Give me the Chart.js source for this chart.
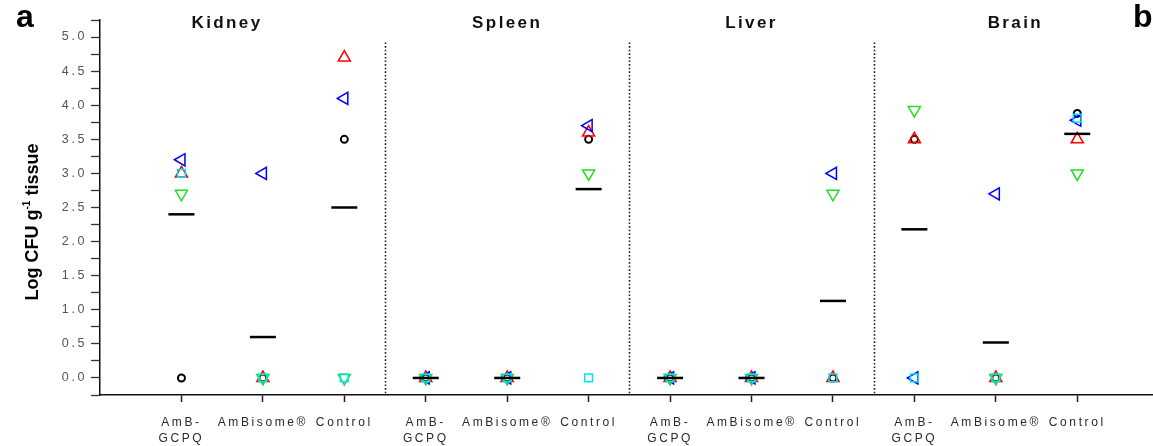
<!DOCTYPE html>
<html>
<head>
<meta charset="utf-8">
<script src="https://cdn.jsdelivr.net/npm/chart.js@4"></script>
<style>
  html, body { margin: 0; padding: 0; background: #fff; }
  #wrap { width: 1153px; height: 446px; }
</style>
</head>
<body>
<div id="wrap"><canvas id="cfuChart" width="1153" height="446"></canvas></div>
<script>
// Organ panels, three treatment columns each
const organs = ["Kidney", "Spleen", "Liver", "Brain"];
const treatments = [["AmB-", "GCPQ"], "AmBisome®", "Control"];
const titlePos = [0.56, 4, 7, 10.24];
const dividerPos = [2.5, 5.5, 8.5];

// Log CFU per animal, columns: Kidney x3, Spleen x3, Liver x3, Brain x3
const mouse1 = [0, 0, 3.5, 0, 0, 3.5, 0, 0, 0, 3.5, 0, 3.88];       // black circle
const mouse2 = [3.0, 0, 4.7, 0, 0, 3.6, 0, 0, 0, 3.5, 0, 3.5];      // red up triangle
const mouse3 = [3.2, 3.0, 4.1, 0, 0, 3.7, 0, 0, 3.0, 0, 2.7, 3.78]; // blue left triangle
const mouse4 = [2.7, 0, 0, 0, 0, 3.0, 0, 0, 2.7, 3.93, 0, 3.0];     // green down triangle
const mouse5 = [3.0, 0, 0, 0, 0, 0, 0, 0, 0, 0, 0, 3.81];           // cyan square
const means = [2.4, 0.6, 2.5, 0, 0, 2.77, 0, 0, 1.13, 2.18, 0.52, 3.58];

function pts(arr) {
  return arr.map((v, i) => ({ x: i, y: v }));
}

function marker(data, style, color, radius, rotation, order, width) {
  return {
    data: pts(data),
    pointStyle: style,
    pointRadius: radius,
    pointRotation: rotation,
    pointBorderWidth: width,
    borderColor: color,
    backgroundColor: "rgba(0,0,0,0)",
    showLine: false,
    order: order,
  };
}

// Extra drawing: letter spacing, panel dividers, titles, axis title
const decorations = {
  id: "decorations",
  beforeDraw(chart) {
    chart.ctx.letterSpacing = "2.6px";
  },
  afterDraw(chart) {
    const { ctx, scales: { x, y } } = chart;
    ctx.save();
    ctx.letterSpacing = "0px";

    // dotted separators between organs
    ctx.strokeStyle = "#222";
    ctx.lineWidth = 1.6;
    ctx.setLineDash([1.6, 2]);
    dividerPos.forEach((p) => {
      const px = Math.round(x.getPixelForValue(p)) + 0.5;
      ctx.beginPath();
      ctx.moveTo(px, y.getPixelForValue(4.92));
      ctx.lineTo(px, y.bottom);
      ctx.stroke();
    });
    ctx.setLineDash([]);

    // organ titles
    ctx.fillStyle = "#111";
    ctx.font = "bold 17px 'Liberation Sans', Arial, sans-serif";
    ctx.letterSpacing = "2.4px";
    ctx.textAlign = "center";
    ctx.textBaseline = "alphabetic";
    organs.forEach((name, i) => {
      ctx.fillText(name, x.getPixelForValue(titlePos[i]), 28);
    });

    // panel letters
    ctx.letterSpacing = "0px";
    ctx.font = "bold 32px 'Liberation Sans', Arial, sans-serif";
    ctx.textAlign = "left";
    ctx.fillStyle = "#000";
    ctx.fillText("a", 16, 27);
    ctx.fillText("b", 1133, 27);

    // y axis title with superscript
    ctx.translate(32, 222);
    ctx.rotate(-Math.PI / 2);
    const parts = [["Log CFU g", 18, 0], ["-1", 10, -8], [" tissue", 18, 0]];
    let total = 0;
    parts.forEach((p) => {
      ctx.font = "bold " + p[1] + "px 'Liberation Sans', Arial, sans-serif";
      total += ctx.measureText(p[0]).width;
    });
    let cx = -total / 2;
    parts.forEach((p) => {
      ctx.font = "bold " + p[1] + "px 'Liberation Sans', Arial, sans-serif";
      ctx.fillText(p[0], cx, 6 + p[2]);
      cx += ctx.measureText(p[0]).width;
    });
    ctx.restore();
  },
};

new Chart(document.getElementById("cfuChart").getContext("2d"), {
  type: "scatter",
  data: {
    datasets: [
      marker(mouse1, "circle", "#000000", 3.5, 0, 5, 2),
      marker(mouse2, "triangle", "#ff0000", 7, 0, 4, 1.5),
      marker(mouse3, "triangle", "#0000ff", 7, 270, 3, 1.5),
      marker(mouse4, "triangle", "#22dd22", 7, 180, 2, 1.5),
      marker(mouse5, "rect", "#00e5f5", 5.5, 0, 1, 1.5),
      marker(means, "line", "#000000", 13, 0, 0, 2.5),
    ],
  },
  options: {
    responsive: false,
    animation: false,
    events: [],
    layout: { autoPadding: false, padding: { top: 20, left: 0, right: 0, bottom: 0 } },
    plugins: {
      legend: { display: false },
      tooltip: { enabled: false },
    },
    scales: {
      x: {
        type: "linear",
        min: -1,
        max: 11.93,
        afterBuildTicks: (scale) => {
          scale.ticks = treatments.concat(treatments, treatments, treatments).map((t, i) => ({ value: i }));
        },
        afterFit: (scale) => {
          scale.height = 51;
          scale.paddingLeft = 0;
          scale.paddingRight = 0;
        },
        grid: { drawOnChartArea: false, tickLength: 7, tickColor: "#222", tickWidth: 1.5 },
        border: { color: "#111", width: 1.5 },
        ticks: {
          autoSkip: false,
          maxRotation: 0,
          padding: 13,
          color: "#2a2a2a",
          font: { family: "'Liberation Sans', Arial, sans-serif", size: 12, lineHeight: 1.3 },
          callback: (v) => treatments[v % 3],
        },
      },
      y: {
        min: -0.25,
        max: 5.25,
        afterFit: (scale) => {
          scale.width = 100;
        },
        grid: { drawOnChartArea: false, tickLength: 9, tickColor: "#333", tickWidth: 1.3 },
        border: { color: "#111", width: 1.5 },
        ticks: {
          stepSize: 0.25,
          autoSkip: false,
          padding: 4,
          color: "#555",
          font: { family: "'Liberation Sans', Arial, sans-serif", size: 12.5 },
          callback: (v) => (Math.abs(v * 2 - Math.round(v * 2)) < 1e-6 ? v.toFixed(1) : ""),
        },
      },
    },
  },
  plugins: [decorations],
});
</script>
</body>
</html>
